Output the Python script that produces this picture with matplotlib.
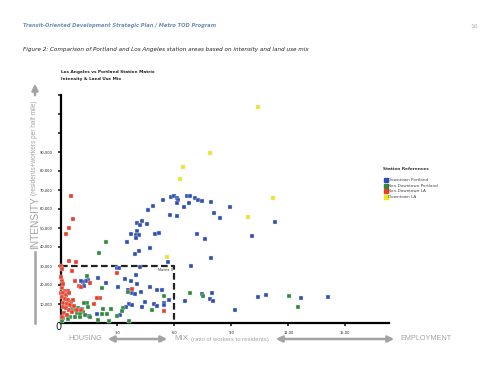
import numpy as np
import matplotlib
matplotlib.use('Agg')
import matplotlib.pyplot as plt
from matplotlib import font_manager
from matplotlib.patches import FancyArrowPatch

# station data (x = mix ratio, y = residents+workers per half mile)
dt_la_x = [10.39, 7.87, 6.43, 6.31, 11.20, 9.88, 5.61]
dt_la_y = [113700, 89500, 82300, 75800, 65800, 55800, 34600]

dt_pdx = [
    (5.41, 64700), (5.82, 66500), (5.99, 67100), (6.13, 65800), (6.20, 65000),
    (6.16, 63300), (6.68, 66700), (6.82, 66700), (7.09, 65800), (7.25, 64600),
    (7.46, 64100), (6.76, 63300), (6.52, 61100), (4.88, 61600), (4.62, 59600),
    (5.76, 57100), (6.13, 56300), (4.29, 53500), (4.03, 52500), (4.18, 51600),
    (4.57, 51900), (4.04, 48600), (3.69, 47000), (3.96, 46300), (4.15, 46500),
    (3.97, 44600), (4.97, 47100), (5.20, 47400), (7.17, 47100), (3.52, 42600),
    (4.73, 39600), (4.15, 37900), (3.92, 36500), (7.91, 63700), (8.91, 60900),
    (8.09, 58100), (8.38, 55500), (11.28, 53000), (7.61, 44200), (10.09, 45900),
    (7.91, 34100), (6.85, 30200), (6.55, 11700), (7.45, 15500), (7.97, 15800),
    (7.85, 12500), (8.03, 11500), (9.18, 7000), (10.38, 13500), (10.84, 14600),
    (12.64, 13000), (14.09, 13700), (5.64, 32300), (4.18, 29300), (3.39, 23200),
    (3.96, 25300), (3.71, 22100), (4.01, 20500), (3.54, 17400), (3.75, 15900),
    (3.92, 15400), (4.22, 16500), (4.71, 19100), (5.09, 17500), (5.34, 17500),
    (5.73, 12100), (5.45, 10700), (5.43, 9500), (4.45, 11100), (4.92, 10200),
    (5.06, 9100), (4.29, 8300), (3.61, 10200), (3.75, 9500), (3.45, 8600),
    (3.13, 4200), (2.99, 29200), (3.08, 28800), (1.46, 22600), (1.34, 22300),
    (1.20, 21700), (1.08, 21900), (1.99, 23500), (1.25, 19500), (3.03, 18800),
    (2.39, 20900), (1.91, 4600), (1.52, 3500),
]

nondt_pdx = [
    (2.39, 42800), (2.01, 37000), (1.39, 24700), (2.16, 18400), (1.38, 10700),
    (6.81, 15900), (7.53, 14100), (12.01, 14100), (12.51, 8400), (3.57, 16200),
    (5.46, 14200), (4.84, 6700), (3.27, 7700), (3.22, 6500), (3.61, 1200),
    (2.64, 7200), (2.25, 7400), (2.17, 4700), (2.46, 4600), (2.99, 3500),
    (1.99, 1400), (2.55, 1100), (1.22, 10400), (0.59, 7700), (0.76, 6800),
    (0.94, 7700), (1.12, 7200), (1.20, 5900), (0.85, 5400), (1.03, 4700),
    (1.29, 4200), (0.50, 3300), (0.76, 3000), (1.03, 3000), (1.55, 3000),
    (0.15, 2500), (0.41, 1900), (0.06, 1200), (1.46, 8600),
]

nondt_la = [
    (0.54, 66700), (0.64, 54600), (0.45, 50200), (0.31, 47000), (0.43, 32700),
    (0.82, 31900), (0.04, 29800), (0.08, 28400), (0.59, 27600), (0.06, 22100),
    (0.74, 22100), (0.97, 19500), (1.09, 18800), (1.57, 21100), (2.09, 13400),
    (1.92, 13200), (1.75, 10000), (2.99, 26500), (3.78, 18000), (5.46, 6300),
    (0.08, 18300), (0.24, 16800), (0.38, 16800), (0.00, 15600), (0.15, 15600),
    (0.29, 14700), (0.45, 15800), (0.09, 13700), (0.24, 12600), (0.39, 12100),
    (0.54, 11200), (0.67, 12100), (0.15, 10400), (0.33, 10000), (0.50, 9500),
    (0.71, 8900), (0.12, 8300), (0.27, 7700), (0.46, 6800), (0.20, 5400),
    (0.59, 5900), (0.88, 6800), (1.09, 6800), (0.33, 4200), (0.08, 3300),
    (0.03, 24200), (0.13, 20500),
]

x_ticks = [3, 6, 9, 12, 15]
x_tick_labels = ['3.0', '6.0', '9.0', '12.00', '15.00']
y_ticks = [10000 * i for i in range(1, 13)]
y_tick_labels = ['{:,}'.format(v) if v <= 90000 else '' for v in y_ticks]

series = [
    ('Downtown Portland', dt_pdx, '#2f4fb0'),
    ('Non-Downtown Portland', nondt_pdx, '#2e8a36'),
    ('Non-Downtown LA', nondt_la, '#f03c22'),
    ('Downtown LA', list(zip(dt_la_x, dt_la_y)), '#f2e51c'),
]

# pick a narrow face if one is installed
installed = set(f.name for f in font_manager.fontManager.ttflist)
narrow = [n for n in ['Liberation Sans Narrow', 'DejaVu Sans Condensed', 'Liberation Sans']
          if n in installed] + ['DejaVu Sans']
narrow = narrow[:1] + ['DejaVu Sans']
gray = '#a3a3a3'

W, H = 500, 378
def f(px, py):
    return (px / W, 1 - py / H)

fig = plt.figure(figsize=(5, 3.78), dpi=100)
renderer = fig.canvas.get_renderer()

def fit(t, length, vertical=False):
    # scale the font so the text spans `length` pixels, as in the reference
    bb = t.get_window_extent(renderer)
    cur = bb.height if vertical else bb.width
    t.set_fontsize(t.get_fontsize() * length / cur)
    return t

ax = fig.add_axes([60.5 / W, 55 / H, 328.5 / W, 228 / H])

for name, pts, col in series:
    xs = [p[0] for p in pts]
    ys = [p[1] for p in pts]
    ax.scatter(xs, ys, s=10, marker='s', color=col, edgecolors='#dde3f0',
               linewidths=0.3, zorder=3, clip_on=False)

# dashed "Matrix II" box
ax.plot([0, 6, 6], [30000, 30000, 0], color='#222222', lw=1.6,
        linestyle=(0, (3, 1.5)), zorder=2, clip_on=False)
ax.text(5.9, 29000, 'Matrix II', fontsize=2.6, ha='right', va='top', color='#333333')

ax.set_xlim(0, 17.3)
ax.set_ylim(0, 120000)
ax.set_xticks(x_ticks)
ax.set_xticklabels(x_tick_labels, fontsize=2.6)
ax.set_yticks(y_ticks)
ax.set_yticklabels(y_tick_labels, fontsize=2.6)
ax.tick_params(direction='out', length=2.5, width=1.2, pad=3, colors='#222222')
for s in ['top', 'right']:
    ax.spines[s].set_visible(False)
ax.spines['left'].set_linewidth(1.6)
ax.spines['bottom'].set_linewidth(1.6)
ax.patch.set_alpha(0)

fig.text(*f(58, 327), '0', fontsize=7, ha='center', va='center', color='#111111')

# axis descriptions
fit(fig.text(*f(35, 223), 'INTENSITY', rotation=90, fontsize=9, color=gray,
             ha='center', va='center', family=narrow), 53, vertical=True)
fit(fig.text(*f(35, 148), '(residents+workers per half mile)', rotation=90, fontsize=5,
             color=gray, ha='center', va='center', family=narrow), 97, vertical=True)
fig.add_artist(FancyArrowPatch(f(35, 98), f(35, 81), transform=fig.transFigure,
                               arrowstyle='-|>', mutation_scale=9, lw=1.8, color=gray))
fig.add_artist(plt.Line2D([35 / W, 35 / W], [1 - 252 / H, 1 - 323 / H],
                          transform=fig.transFigure, lw=1.8, color=gray))

fit(fig.text(*f(68, 339), 'HOUSING', fontsize=9, color=gray, ha='left', va='center',
             family=narrow), 34)
fig.add_artist(FancyArrowPatch(f(105, 339), f(170, 339), transform=fig.transFigure,
                               arrowstyle='<|-|>', mutation_scale=9, lw=1.8, color=gray))
fit(fig.text(*f(174, 339), 'MIX', fontsize=9, color=gray, ha='left', va='center',
             family=narrow), 14)
fit(fig.text(*f(191, 340), '(ratio of workers to residents)', fontsize=5, color=gray,
             ha='left', va='center', family=narrow), 79)
fig.add_artist(FancyArrowPatch(f(273, 339), f(397, 339), transform=fig.transFigure,
                               arrowstyle='<|-|>', mutation_scale=9, lw=1.8, color=gray))
fit(fig.text(*f(400, 339), 'EMPLOYMENT', fontsize=9, color=gray, ha='left', va='center',
             family=narrow), 51)

# chart title
fit(fig.text(*f(61, 72), 'Los Angeles vs Portland Station Matrix', fontsize=3.4,
             weight='bold', ha='left', va='center', color='#222222'), 96)
fig.text(*f(61, 79), 'Intensity & Land Use Mix', fontsize=fig.texts[-1].get_fontsize(),
         weight='bold', ha='left', va='center', color='#222222')

# legend
fit(fig.text(*f(383, 169), 'Station References', fontsize=3.4, weight='bold',
             ha='left', va='center', color='#333333'), 47)
for i, (name, pts, col) in enumerate(series):
    yy = 180.5 + i * 5.4
    fig.add_artist(plt.Line2D([385.5 / W], [1 - yy / H], marker='s', markersize=2.2,
                              color=col, transform=fig.transFigure, lw=0))
    fig.text(*f(388.5, yy), name, fontsize=3.0, ha='left', va='center', color='#444444')

# page header
fit(fig.text(*f(23, 26), 'Transit-Oriented Development Strategic Plan / Metro TOD Program',
             fontsize=4.4, style='italic', weight='bold', color='#6d8cb5', ha='left',
             va='center'), 193)
fig.text(*f(478, 26), '16', fontsize=4.4, color='#b0b0b0', ha='right', va='center')
fit(fig.text(*f(23, 49), 'Figure 2: Comparison of Portland and Los Angeles station areas based on intensity and land use mix',
             fontsize=4.0, style='italic', color='#222222', ha='left', va='center'), 279)

fig.savefig('out.png', dpi=100)
